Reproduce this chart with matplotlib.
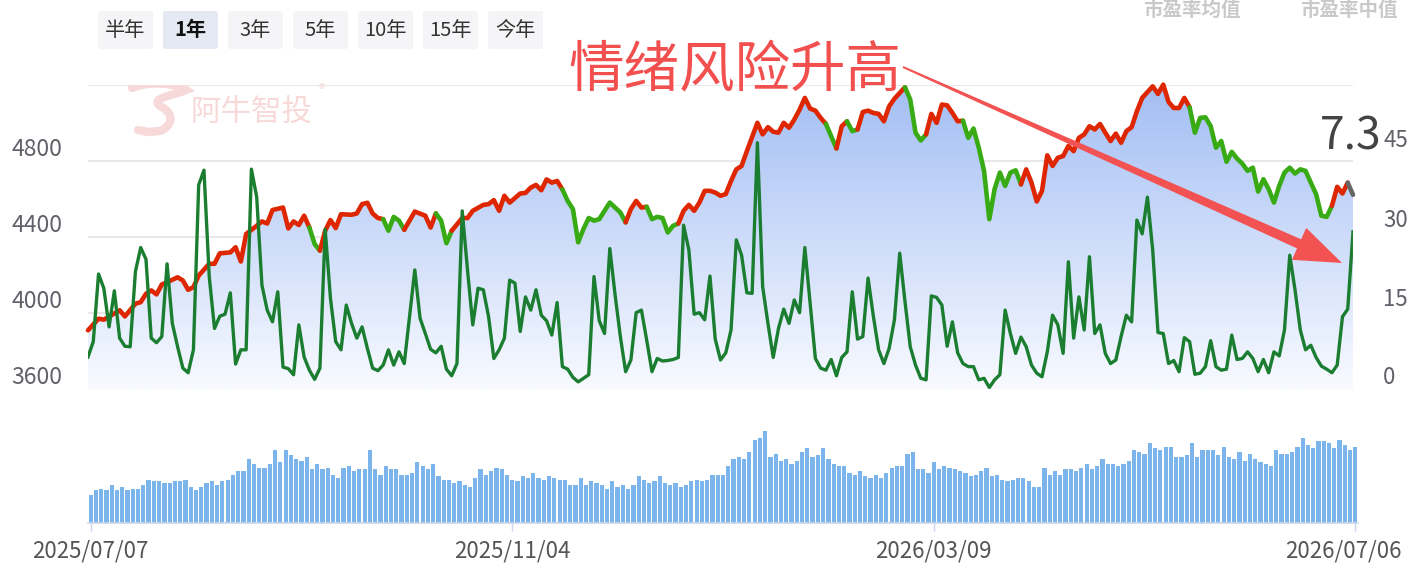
import numpy as np
import matplotlib
matplotlib.use('Agg')
import matplotlib.pyplot as plt
from matplotlib.colors import LinearSegmentedColormap
from matplotlib.patches import FancyBboxPatch, Polygon, PathPatch
from matplotlib.path import Path
from matplotlib.transforms import blended_transform_factory, offset_copy

plt.rcParams['font.family'] = ['Noto Sans CJK SC', 'DejaVu Sans']

# ---- data (day index on a 241-day trading axis) ----
price_day = [0, 2, 3, 6, 7, 9, 10, 11, 12, 13, 14, 15, 17, 18, 19, 20, 21, 23, 24, 25,
             27, 28, 29, 30, 32, 33, 34, 35, 37, 38, 39, 40, 41, 42, 43, 44, 45, 46, 47, 48,
             50, 51, 52, 53, 54, 55, 56, 57, 58, 59, 60, 61, 62, 64, 65, 66, 67, 68, 69, 71,
             72, 73, 75, 76, 77, 78, 79, 80, 82, 83, 84, 85, 86, 87, 88, 89, 90, 91, 92, 93,
             94, 95, 96, 97, 98, 99, 101, 102, 103, 104, 105, 106, 107, 108, 109, 110, 111, 112, 113, 114,
             115, 116, 117, 118, 119, 120, 121, 122, 123, 124, 125, 127, 128, 129, 130, 131, 132, 133, 134, 135,
             136, 137, 138, 139, 140, 142, 143, 144, 145, 146, 147, 148, 149, 150, 151, 152, 153, 155, 156, 157,
             158, 159, 160, 161, 162, 163, 164, 165, 166, 167, 168, 169, 170, 171, 172, 173, 174, 175, 176, 177,
             178, 179, 180, 181, 182, 183, 184, 185, 186, 187, 188, 189, 190, 191, 192, 193, 194, 195, 196, 197,
             198, 199, 200, 202, 203, 204, 205, 206, 207, 208, 209, 210, 211, 212, 213, 214, 215, 216, 217, 218,
             219, 220, 221, 222, 223, 224, 225, 226, 227, 228, 229, 230, 231, 232, 233, 234, 235, 236, 237, 238, 239, 240]
price_close = [3909, 3970, 3965, 4014, 3982, 4049, 4057, 4101, 4119, 4098, 4150, 4162, 4188, 4171, 4122, 4136, 4197, 4259, 4259, 4314,
               4319, 4346, 4271, 4416, 4459, 4482, 4471, 4542, 4555, 4445, 4482, 4463, 4512, 4450, 4363, 4328, 4433, 4489, 4447, 4520,
               4517, 4524, 4573, 4580, 4524, 4500, 4494, 4433, 4506, 4486, 4438, 4486, 4534, 4512, 4450, 4524, 4486, 4367, 4433, 4500,
               4500, 4538, 4569, 4573, 4594, 4538, 4617, 4581, 4629, 4632, 4660, 4674, 4646, 4703, 4686, 4695, 4651, 4590, 4547, 4372,
               4442, 4500, 4486, 4494, 4538, 4581, 4529, 4477, 4547, 4590, 4555, 4559, 4494, 4506, 4500, 4424, 4459, 4471, 4538, 4569,
               4538, 4581, 4643, 4643, 4634, 4617, 4626, 4695, 4756, 4774, 4852, 5001, 4940, 4978, 4954, 4949, 5001, 4975, 5018, 5070,
               5132, 5076, 5065, 5027, 4995, 4866, 4983, 5009, 4957, 4966, 5058, 5065, 5053, 5048, 5009, 5088, 5128, 5188, 5123, 4949,
               4908, 4940, 5048, 5001, 5097, 5093, 5053, 5009, 5012, 4922, 4971, 4870, 4748, 4494, 4652, 4739, 4669, 4739, 4751, 4677,
               4756, 4686, 4587, 4643, 4830, 4774, 4817, 4826, 4879, 4852, 4922, 4940, 4983, 4966, 4995, 4949, 4905, 4944, 4896, 4957,
               4978, 5062, 5132, 5193, 5153, 5202, 5111, 5079, 5079, 5132, 5083, 4949, 5027, 5030, 4983, 4870, 4905, 4796, 4848, 4813,
               4786, 4748, 4765, 4639, 4704, 4652, 4581, 4669, 4739, 4765, 4734, 4756, 4748, 4686, 4625, 4512, 4506, 4564, 4664, 4629, 4686, 4622]
# day ranges where the index line is drawn green (weak phase)
green_spans = [(42, 44), (56, 60), (66, 69), (90, 102), (106, 112), (140, 142),
               (144, 146), (155, 159), (166, 177), (209, 236)]

pe_day = list(range(0, 61)) + list(range(62, 241))
pe_value = [6.3, 9.3, 22.6, 19.8, 12.2, 19.3, 10.0, 8.4, 8.3, 23.1,
            27.8, 25.5, 10.0, 9.1, 10.3, 24.6, 12.9, 8.3, 4.1, 3.2,
            7.7, 40.1, 43.0, 22.1, 11.9, 14.3, 14.7, 18.9, 4.9, 7.7,
            7.7, 43.2, 37.8, 20.4, 15.5, 13.2, 19.1, 4.3, 4.0, 2.8,
            12.6, 6.3, 3.7, 1.9, 4.1, 31.4, 17.8, 9.3, 7.7, 16.5,
            12.9, 10.0, 12.2, 8.0, 4.1, 3.6, 4.7, 7.7, 4.7, 7.3, 5.0,
            23.4, 13.9, 10.9, 7.8, 7.1, 8.4, 3.9, 2.6, 5.0, 35.0,
            23.4, 12.6, 19.8, 19.5, 14.2, 6.0, 7.7, 10.0, 21.4, 20.8,
            11.3, 18.1, 15.5, 19.5, 14.5, 13.4, 10.6, 17.0, 4.4, 3.9,
            2.3, 1.4, 2.1, 2.8, 22.1, 13.4, 10.9, 27.6, 18.5, 10.3,
            3.4, 5.7, 15.0, 15.5, 9.6, 3.4, 6.0, 5.5, 5.6, 5.8,
            6.2, 32.2, 27.3, 14.7, 15.0, 13.6, 22.2, 9.8, 5.7, 7.1,
            11.6, 29.3, 26.3, 18.9, 18.8, 48.4, 20.1, 12.9, 6.2, 11.9,
            15.7, 12.9, 17.5, 15.0, 27.8, 16.8, 6.0, 4.1, 3.7, 5.8,
            2.6, 6.2, 7.3, 19.1, 9.8, 10.3, 21.8, 14.3, 7.7, 5.0,
            8.0, 13.6, 26.7, 17.2, 8.3, 4.7, 2.1, 1.8, 18.3, 18.0,
            16.5, 8.4, 13.2, 7.1, 5.0, 4.4, 4.4, 1.8, 2.1, 0.3,
            1.8, 2.8, 15.5, 10.9, 7.0, 10.2, 8.3, 4.7, 3.1, 2.4,
            7.3, 14.5, 12.6, 7.0, 25.0, 10.0, 18.1, 11.6, 26.0, 10.9,
            12.6, 7.0, 5.0, 5.7, 10.3, 14.5, 13.2, 33.2, 30.5, 37.7,
            27.3, 11.1, 10.9, 5.0, 5.6, 3.4, 10.1, 9.3, 2.9, 3.1,
            4.4, 9.5, 4.4, 3.7, 3.9, 10.6, 5.8, 6.0, 7.3, 6.0,
            3.4, 5.8, 3.2, 7.3, 6.5, 11.6, 26.3, 19.5, 11.6, 7.7,
            8.6, 6.2, 4.5, 3.9, 3.2, 4.7, 14.2, 15.7, 30.9]

volume = [5530, 6530, 6870, 6530, 7530, 6530, 7200, 6530, 6870, 6870,
          7530, 8670, 8330, 8330, 8000, 8000, 8330, 8330, 8670, 7200,
          6530, 7200, 8000, 8330, 7670, 8330, 8670, 9670, 10400, 10400,
          12870, 11800, 11070, 11070, 11800, 14670, 12130, 14670, 13530, 12870,
          12470, 13200, 10730, 11800, 10730, 11070, 9670, 9000, 11070, 11400,
          10400, 10730, 10730, 14670, 10730, 9670, 11400, 10730, 10730, 9670,
          9670, 10070, 12130, 11400, 10730, 11800, 9330, 8670, 8670, 8000,
          8330, 7670, 7200, 9000, 10730, 9670, 10400, 11070, 10730, 9670,
          8670, 8330, 9330, 9000, 10070, 9000, 8670, 9330, 9000, 8670,
          8670, 7670, 7670, 9000, 7670, 8330, 8000, 7670, 6870, 8330,
          7200, 7670, 6870, 7670, 9330, 8670, 8000, 8330, 9330, 8000,
          7670, 8000, 7200, 7670, 8330, 8670, 8330, 8670, 9670, 9670,
          9670,
          11400, 12870, 13200, 12870, 14270, 16670, 17000, 18400, 13200, 13870,
          12470, 12870, 11800, 12470, 14270, 14930, 13200, 13530, 14930, 12870,
          11800, 11400, 11400, 10070, 9670, 10400, 9330, 9000, 9670, 9000,
          10070, 11070, 11400, 11400, 13870, 14270, 10730, 10730, 10070, 12130,
          10730, 11400, 11070, 10730, 10400, 10070, 9330, 9670, 10400, 11070,
          9330, 9670, 8670, 8330, 8670, 9000, 9000, 8330, 7200, 7200,
          11070, 9670, 10400, 9670, 10730, 10730, 10400, 11070, 11800, 10730,
          11400, 12870, 11800, 11800, 11400, 11800, 12470, 14600, 14270, 13870,
          16000, 14930, 14600, 15270, 15270, 13200, 13200, 13530, 16000, 13200,
          14600, 14600, 14600, 13530, 15270, 13200, 12870, 14270, 12470, 13870,
          12870, 12130, 11800, 11400, 14600, 13870, 13870, 14270, 15270, 17000,
          15670, 14930, 16330, 16330, 16000, 14930, 16670, 15670, 14600, 15270]

date_ticks = [0, 80, 160, 240]
date_labels = ['2025/07/07', '2025/11/04', '2026/03/09', '2026/07/06']
price_ticks = [3600, 4000, 4400, 4800]
pe_ticks = [0, 15, 30, 45]
periods = ['半年', '1年', '3年', '5年', '10年', '15年', '今年']
selected_period = '1年'
last_pe = '7.3'
note_text = '情绪风险升高'

# ---- figure ----
W, H = 1423, 574
fig = plt.figure(figsize=(W / 100, H / 100), dpi=100)


def fx(px):
    return px / W


def fy(py):
    return 1 - py / H


RED, GREEN, DARK = '#de2600', '#38aa14', '#1a7d30'
PALE = '#f8d9d9'

ax = fig.add_axes([fx(88), fy(389), fx(1353) - fx(88), fy(85) - fy(389)])
for s in ax.spines.values():
    s.set_visible(False)
ax.set_xticks([])
ax.set_yticks([])
for v in [3600, 4000, 4400, 4800, 5200]:
    ax.axhline(v, color='#e6e6e6', lw=1.3, zorder=0)

# gradient area under the index line
cmap = LinearSegmentedColormap.from_list('area', ['#f8faff', '#a3bef4'])
grad = np.linspace(0, 1, 256).reshape(-1, 1)
im = ax.imshow(grad, extent=[0, 240, 3600, 5200], origin='lower', aspect='auto',
               cmap=cmap, zorder=1)
area = ax.fill_between(price_day, price_close, 3600, facecolor='none', edgecolor='none')
im.set_clip_path(area.get_paths()[0], transform=ax.transData)
ax.set_xlim(0, 240)
ax.set_ylim(3600, 5200)


def seg_color(a, b):
    if a >= 239:
        return '#666666'
    for s, e in green_spans:
        if s <= a and b <= e:
            return GREEN
    return RED


# group consecutive segments of one colour into runs
runs = []
for k in range(len(price_day) - 1):
    c = seg_color(price_day[k], price_day[k + 1])
    if runs and runs[-1][0] == c:
        runs[-1][1].append(k + 1)
    else:
        runs.append([c, [k, k + 1]])
for c, idx in runs:
    ax.plot([price_day[i] for i in idx], [price_close[i] for i in idx], color=c,
            lw=3.3, solid_capstyle='round', solid_joinstyle='round', zorder=3, clip_on=False)

ax2 = ax.twinx()
ax2.set_ylim(0, 59.74)
for s in ax2.spines.values():
    s.set_visible(False)
ax2.set_yticks([])
ax2.plot(pe_day, pe_value, color=DARK, lw=2.4, solid_joinstyle='round', zorder=4)
ax2.set_xlim(0, 240)

# axis labels (drawn a little above their grid lines, as in the source)
tl = offset_copy(blended_transform_factory(fig.transFigure, ax.transData), fig=fig, y=12, units='dots')
for v in price_ticks:
    ax.text(fx(62), v, str(v), transform=tl, ha='right', va='center', fontsize=16.5, color='#5f6068')
for v, off in zip(pe_ticks, [12, 13, 16, 20]):
    tr = offset_copy(blended_transform_factory(fig.transFigure, ax2.transData), fig=fig, y=off, units='dots')
    ax2.text(fx(1383), v, str(v), transform=tr, ha='left', va='center', fontsize=16, color='#5f6068')

# volume panel
axv = fig.add_axes([fx(88), fy(523), fx(1358) - fx(88), fy(410) - fy(523)])
axv.bar(range(len(volume)), volume, width=0.8, color='#7cb5ec', edgecolor='none')
axv.set_xlim(-0.5, len(volume) - 0.5)
axv.set_ylim(0, 22600)
for k, s in axv.spines.items():
    s.set_visible(k == 'bottom')
axv.spines['bottom'].set_color('#ccd6eb')
axv.spines['bottom'].set_linewidth(1.2)
axv.set_yticks([])
axv.set_xticks(date_ticks)
axv.tick_params(axis='x', length=6, width=1, color='#ccd6eb', labelbottom=False)
td = blended_transform_factory(axv.transData, fig.transFigure)
for k, (t, lab) in enumerate(zip(date_ticks, date_labels)):
    tt = offset_copy(td, fig=fig, x=-12 if k == len(date_ticks) - 1 else 0, units='dots')
    axv.text(t, fy(551), lab, transform=tt, ha='center', va='center', fontsize=16, color='#555555')

# period buttons
for k, p in enumerate(periods):
    x0 = 98 + 65 * k
    sel = p == selected_period
    box = FancyBboxPatch((fx(x0), fy(49)), fx(55), 38 / H,
                         boxstyle='round,pad=0,rounding_size=0.003',
                         transform=fig.transFigure, facecolor='#e4e9f4' if sel else '#f5f5f7',
                         edgecolor='none')
    fig.add_artist(box)
    fig.text(fx(x0 + 27.5), fy(30), p, ha='center', va='center', fontsize=14.5,
             color='#111111' if sel else '#333333', weight='bold' if sel else 'normal')

# faded legend titles at the top edge
fig.text(fx(1192), fy(1), '市盈率均值', ha='center', va='top', fontsize=14,
         color='#c9c9c9', weight='bold')
fig.text(fx(1349), fy(1), '市盈率中值', ha='center', va='top', fontsize=14,
         color='#c9c9c9', weight='bold')

# watermark: swirl logo + name
ax.text(fx(252), fy(112), '阿牛智投', transform=fig.transFigure, ha='center', va='center',
        fontsize=22, color=PALE, zorder=0.5)
ax.text(fx(322), fy(90), '®', transform=fig.transFigure, ha='center', va='center',
        fontsize=9, color=PALE, zorder=0.5)
logo_px = [(132, 88), (150, 80), (178, 84), (186, 90), (172, 96), (150, 98), (160, 106),
           (176, 114), (172, 126), (160, 131), (148, 132), (138, 130)]
codes = [Path.MOVETO] + [Path.CURVE4] * 9 + [Path.LINETO] * 2
logo = PathPatch(Path([(fx(x), fy(y)) for x, y in logo_px], codes), transform=fig.transFigure,
                 facecolor='none', edgecolor=PALE, lw=6, capstyle='round', zorder=0.5)
ax.add_artist(logo)

# last value and note
fig.text(fx(1381), fy(137), last_pe, ha='right', va='center', fontsize=32, color='#444444')
fig.text(fx(735), fy(72), note_text, ha='center', va='center', fontsize=40, color='#f24f4f')

# tapered arrow from the note to the latest value
S = np.array([903.0, 67.0])
T = np.array([1342.0, 263.0])
d = (T - S) / np.linalg.norm(T - S)
n = np.array([-d[1], d[0]])
B = T - 47 * d
pts = [S + n * 1.0, B + n * 5.0, B + n * 17.5, T, B - n * 17.5, B - n * 5.0, S - n * 1.0]
arrow = Polygon([(fx(p[0]), fy(p[1])) for p in pts], closed=True, transform=fig.transFigure,
                facecolor='#f25252', edgecolor='none', zorder=6)
fig.add_artist(arrow)

fig.savefig('out.png', dpi=100)
